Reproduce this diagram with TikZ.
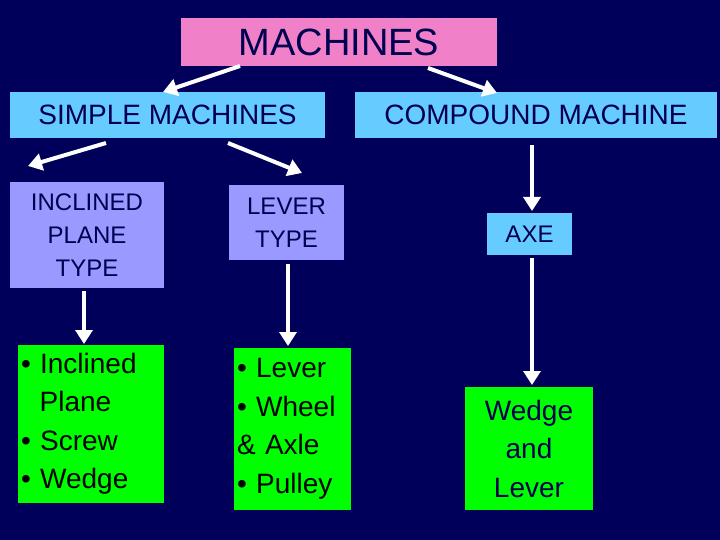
\documentclass[tikz,border=0pt]{standalone}
\usepackage{fontspec}
\setmainfont{Liberation Sans}
\definecolor{bg}{RGB}{0,0,90}
\definecolor{navy}{RGB}{0,0,80}
\definecolor{pinkb}{RGB}{240,128,200}
\definecolor{skyb}{RGB}{102,204,255}
\definecolor{lav}{RGB}{153,153,255}
\definecolor{grn}{RGB}{0,255,0}
\begin{document}
\begin{tikzpicture}[x=1pt,y=-1pt,
  box/.style={draw=none,inner sep=0pt,align=center,text=navy},
  lst/.style={box,fill=grn,text=black,align=left,inner xsep=3pt,font=\fontsize{28}{38.5}\selectfont},
  arr/.style={draw=white,line width=4pt,-{Triangle[length=14pt,width=17pt]}}]
\usetikzlibrary{arrows.meta}
\fill[bg] (0,0) rectangle (720,540);
\useasboundingbox (0,0) rectangle (720,540);
\node[box,fill=pinkb,minimum width=316pt,minimum height=48pt,font=\fontsize{38}{40}\selectfont] (m) at (339,42) {MACHINES};
\node[box,fill=skyb,minimum width=315pt,minimum height=46pt,font=\fontsize{28}{30}\selectfont] (s) at (167.5,115) {SIMPLE MACHINES};
\node[box,fill=skyb,minimum width=362pt,minimum height=46pt,font=\fontsize{28}{30}\selectfont] (c) at (536,115) {COMPOUND MACHINE};
\node[box,fill=lav,minimum width=154pt,minimum height=106pt,font=\fontsize{24}{33}\selectfont] (ip) at (87,235) {INCLINED\\PLANE\\TYPE};
\node[box,fill=lav,minimum width=115pt,minimum height=75pt,font=\fontsize{24}{33}\selectfont] (lv) at (286.5,222.5) {LEVER\\TYPE};
\node[box,fill=skyb,minimum width=85pt,minimum height=42pt,font=\fontsize{24}{26}\selectfont] (axe) at (529.5,234) {AXE};
\node[lst,minimum height=158pt,text width=140pt] (l1) at (91,424) {• Inclined\\\ \ Plane\\• Screw\\• Wedge};
\node[lst,minimum height=162pt,text width=111pt] (l2) at (292.5,429) {• Lever\\• Wheel\\\& Axle\\• Pulley};
\node[box,fill=grn,text=navy,minimum width=128pt,minimum height=123pt,font=\fontsize{28}{38.5}\selectfont] (l3) at (529,448.5) {Wedge\\and\\Lever};
\coordinate (a1) at (240,66); \coordinate (a1e) at (163,92);
\coordinate (a2) at (428,68); \coordinate (a2e) at (497,93);
\coordinate (b1) at (106,143); \coordinate (b1e) at (28,166);
\coordinate (b2) at (228,143); \coordinate (b2e) at (302,173);
\coordinate (c1) at (532,145); \coordinate (c1e) at (532,211);
\coordinate (d1) at (84,291); \coordinate (d1e) at (84,344);
\coordinate (d2) at (288,264); \coordinate (d2e) at (288,346);
\coordinate (d3) at (532,258); \coordinate (d3e) at (532,385);
\foreach \p in {a1,a2,b1,b2,c1,d1,d2,d3}{\draw[arr] (\p) -- (\p e);}
\end{tikzpicture}
\end{document}
